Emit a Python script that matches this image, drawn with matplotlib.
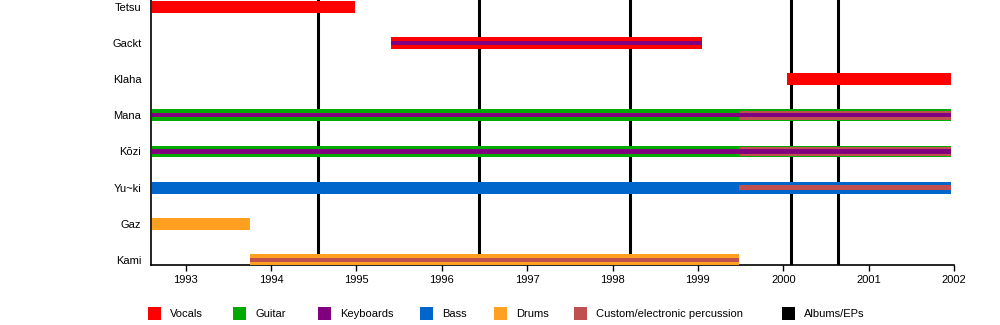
import matplotlib.pyplot as plt
from matplotlib.patches import Rectangle

plt.rcParams["font.family"] = ["Liberation Sans", "DejaVu Sans"]
plt.rcParams["font.size"] = 8

# =========================================
# DATA
# =========================================

members = ["Tetsu", "Gackt", "Klaha", "Mana", "Kōzi", "Yu~ki", "Gaz", "Kami"]

roles = ["Vocals", "Guitar", "Keyboards", "Bass", "Drums",
         "Custom/electronic percussion", "Albums/EPs"]
role_colors = ["#ff0000", "#00aa00", "#800080", "#0066cc", "#ffa020",
               "#c05050", "#000000"]

# main bars: member, start, end, role
main_member = ["Tetsu", "Gackt", "Klaha", "Mana", "Kōzi", "Yu~ki", "Gaz", "Kami"]
main_start = [1992.6, 1995.40, 2000.04, 1992.6, 1992.6, 1992.6, 1992.6, 1993.75]
main_end = [1994.98, 1999.05, 2001.96, 2001.96, 2001.96, 2001.96, 1993.75, 1999.48]
main_role = ["Vocals", "Vocals", "Vocals", "Guitar", "Guitar", "Bass", "Drums", "Drums"]

# medium bars (custom percussion band)
mid_member = ["Mana", "Kōzi"]
mid_start = [1999.48, 1999.48]
mid_end = [2001.96, 2001.96]
mid_role = ["Custom/electronic percussion", "Custom/electronic percussion"]

# thin center bars
thin_member = ["Gackt", "Mana", "Mana", "Kōzi", "Kōzi", "Yu~ki", "Kami"]
thin_start = [1995.40, 1992.6, 1999.48, 1992.6, 1999.48, 1999.48, 1993.75]
thin_end = [1999.05, 1999.48, 2001.96, 1999.48, 2001.96, 2001.96, 1999.48]
thin_role = ["Keyboards", "Keyboards", "Keyboards", "Keyboards", "Keyboards",
             "Custom/electronic percussion", "Custom/electronic percussion"]

albums = [1994.55, 1996.44, 1998.20, 2000.09, 2000.64]

years = list(range(1993, 2003))

# =========================================
# PLOT
# =========================================

color_of = dict(zip(roles, role_colors))
ypos = {m: len(members) - 1 - i for i, m in enumerate(members)}

fig = plt.figure(figsize=(10, 3.25), dpi=100)
ax = fig.add_axes([0.151, 0.1846, 0.803, 0.8154])


def draw(mem, st, en, rl, h, z):
    for m, s, e, r in zip(mem, st, en, rl):
        ax.barh(ypos[m], e - s, left=s, height=h, color=color_of[r],
                linewidth=0, zorder=z)


draw(main_member, main_start, main_end, main_role, 0.33, 3)
draw(mid_member, mid_start, mid_end, mid_role, 0.25, 4)
draw(thin_member, thin_start, thin_end, thin_role, 0.12, 5)

for a in albums:
    ax.axvline(a, color="black", linewidth=2.2, zorder=2)

ax.set_xlim(1992.594, 2002.0)
ax.set_ylim(-0.14, 7.19)
ax.set_yticks([ypos[m] for m in members])
ax.set_yticklabels(members)
ax.set_xticks(years)
ax.set_xticklabels([str(y) for y in years])

ax.spines["top"].set_visible(False)
ax.spines["right"].set_visible(False)
ax.spines["left"].set_linewidth(1.2)
ax.spines["bottom"].set_linewidth(1.2)
ax.tick_params(axis="y", length=0, pad=7)
ax.tick_params(axis="x", length=4.5, width=1, pad=3)

# legend
sq_x = [148, 233, 318, 420, 494, 574, 782]
lab_x = [170, 255, 340, 442, 516, 596, 804]
for r, c, sx, lx in zip(roles, role_colors, sq_x, lab_x):
    fig.add_artist(Rectangle((sx / 1000, (325 - 320) / 325), 13 / 1000, 13 / 325,
                             transform=fig.transFigure, color=c, linewidth=0))
    fig.text(lx / 1000, (325 - 314) / 325, r, ha="left", va="center")

fig.savefig("out.png", dpi=100)
